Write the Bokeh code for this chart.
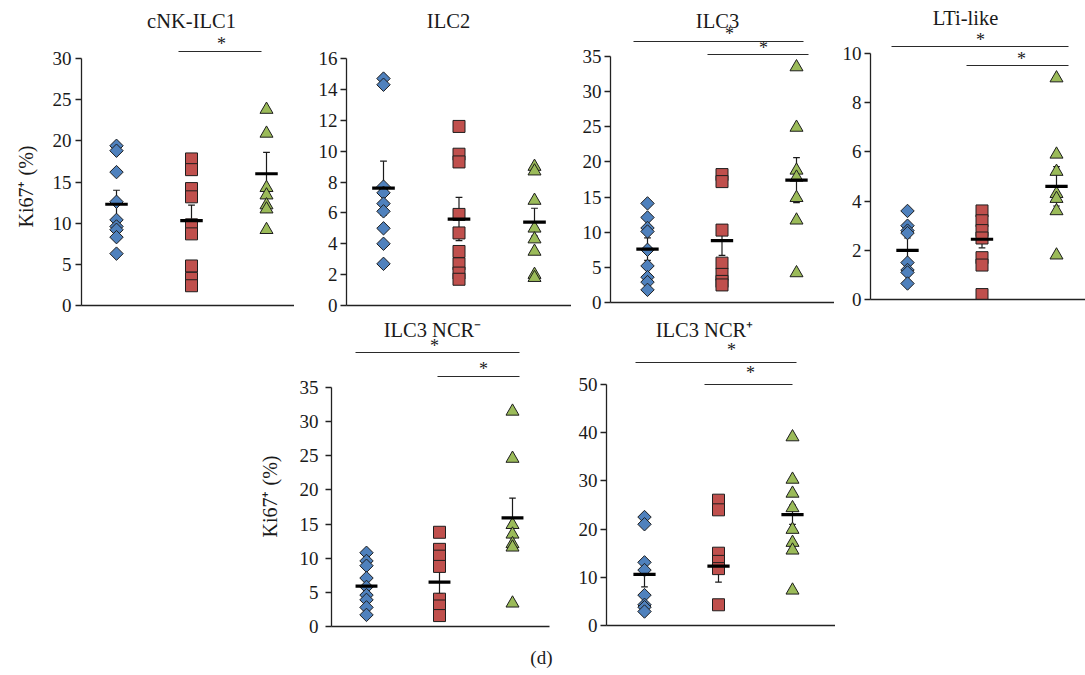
import math
from bokeh.plotting import figure
from bokeh.layouts import row, column, Spacer
from bokeh.models import FixedTicker, Range1d, Title
from bokeh.core.properties import value
from bokeh.embed import file_html
from bokeh.resources import INLINE

# ---------------- data ----------------
titles = ["cNK-ILC1", "ILC2", "ILC3", "LTi-like", "ILC3 NCR\u207b", "ILC3 NCR\u207a"]

cnk_blue = [19.4, 18.8, 16.2, 12.6, 10.4, 9.6, 9.2, 8.3, 6.3]
cnk_red = [17.8, 16.5, 14.2, 13.2, 9.8, 8.7, 4.8, 3.3, 2.4]
cnk_green = [23.8, 20.9, 14.3, 13.4, 12.2, 11.7, 9.2]
cnk_mean = [12.3, 10.3, 16.0]
cnk_sem = [1.7, 1.9, 2.6]

ilc2_blue = [14.7, 14.3, 7.7, 7.3, 6.6, 6.1, 5.0, 4.0, 2.7]
ilc2_red = [11.6, 9.8, 9.3, 5.9, 4.7, 3.5, 2.7, 2.1, 1.7]
ilc2_green = [9.0, 8.7, 6.8, 5.0, 4.3, 3.5, 2.0, 1.8]
ilc2_mean = [7.6, 5.6, 5.4]
ilc2_sem = [1.75, 1.4, 0.9]

ilc3_blue = [14.1, 12.1, 10.6, 10.1, 7.5, 5.2, 3.6, 2.9, 1.8]
ilc3_red = [18.2, 17.2, 10.3, 5.6, 4.0, 3.0, 2.5]
ilc3_green = [33.5, 24.9, 18.8, 17.8, 14.9, 11.7, 4.2]
ilc3_mean = [7.6, 8.8, 17.4]
ilc3_sem = [1.6, 2.1, 3.2]

lti_blue = [3.6, 3.0, 2.8, 2.7, 1.5, 1.2, 1.1, 0.65]
lti_red = [3.6, 3.2, 2.8, 2.5, 1.7, 1.4, 0.2]
lti_green = [9.0, 5.9, 5.2, 4.3, 4.1, 3.6, 1.8]
lti_mean = [2.0, 2.45, 4.6]
lti_sem = [0.5, 0.35, 0.8]

ncrneg_blue = [10.8, 9.6, 8.9, 7.1, 5.8, 4.6, 3.9, 2.8, 1.7]
ncrneg_red = [13.8, 11.3, 10.3, 8.8, 4.0, 3.0, 1.6]
ncrneg_green = [31.5, 24.6, 14.9, 13.5, 12.1, 11.6, 3.4]
ncrneg_mean = [5.9, 6.5, 15.9]
ncrneg_sem = [1.0, 1.7, 2.9]

ncrpos_blue = [22.5, 21.0, 13.1, 11.5, 6.3, 4.3, 3.8, 2.9]
ncrpos_red = [26.0, 24.0, 15.0, 13.3, 11.8, 4.3]
ncrpos_green = [39.1, 30.3, 27.4, 24.4, 19.9, 17.2, 15.6, 7.3]
ncrpos_mean = [10.6, 12.3, 23.0]
ncrpos_sem = [2.6, 3.3, 2.0]

ticks_cnk = [0, 5, 10, 15, 20, 25, 30]
ticks_ilc2 = [0, 2, 4, 6, 8, 10, 12, 14, 16]
ticks_ilc3 = [0, 5, 10, 15, 20, 25, 30, 35]
ticks_lti = [0, 2, 4, 6, 8, 10]
ticks_ncrneg = [0, 5, 10, 15, 20, 25, 30, 35]
ticks_ncrpos = [0, 10, 20, 30, 40, 50]

ylabel = "Ki67\u207a (%)"
panel_tag = "(d)"

# ---------------- styling ----------------
SERIF = "Liberation Serif"
BLUE, RED, GREEN = "#4F81BD", "#C0504D", "#9BBB59"
EDGE = "#1e1e1e"
INK = "#1a1a1a"


def make_panel(title, groups, means, sems, ticks, lay):
    Fl, Fr, c1, unit = lay["Fl"], lay["Fr"], lay["c1"], lay["unit"]
    Fb, Tt, ctop, cbot = lay["Fb"], lay["Tt"], lay["ctop"], lay["cbot"]
    ymax = ticks[-1]

    def X(px):
        return 1 + (px - c1) / unit

    def Y(px):
        return (Fb - px) / (Fb - Tt) * ymax

    p = figure(frame_width=Fr - Fl, frame_height=Fb - ctop,
               min_border_left=lay["bl"], min_border_right=lay.get("br", 0),
               min_border_top=0, min_border_bottom=cbot - Fb,
               x_range=Range1d(X(Fl), X(Fr)), y_range=Range1d(0, Y(ctop)),
               output_backend="svg", toolbar_location=None, tools="")
    p.outline_line_color = None
    p.xgrid.visible = False
    p.ygrid.visible = False
    p.background_fill_color = "white"
    p.border_fill_color = "white"

    # axes
    yax = p.yaxis[0]
    yax.ticker = FixedTicker(ticks=ticks)
    yax.bounds = (0, ymax)
    yax.major_tick_out = 6
    yax.major_tick_in = 0
    yax.minor_tick_line_color = None
    yax.major_label_standoff = lay.get("std", 3)
    yax.major_label_text_font = SERIF
    yax.major_label_text_font_size = "19px"
    yax.major_label_text_color = INK
    yax.axis_line_color = "#222222"
    yax.axis_line_width = 1.3
    yax.major_tick_line_color = "#222222"
    yax.major_tick_line_width = 1.3

    if "ylab" in lay:
        off, std = lay["ylab"]
        p.add_layout(Title(text=ylabel, align="left", offset=off, standoff=std,
                           text_font=SERIF, text_font_size="20px",
                           text_font_style="normal", text_color=INK), "left")

    xax = p.xaxis[0]
    xax.ticker = FixedTicker(ticks=[])
    xax.major_tick_out = 0
    xax.major_tick_in = 0
    xax.minor_tick_line_color = None
    xax.major_label_standoff = 0
    xax.axis_line_color = "#222222"
    xax.axis_line_width = 1.3

    if "tag" in lay:
        off, std = lay["tag"]
        p.add_layout(Title(text=panel_tag, align="right", offset=off, standoff=std,
                           text_font=SERIF, text_font_size="19px",
                           text_font_style="normal", text_color=INK), "below")

    # error bars (mean +/- SEM)
    cats = [1, 2, 3]
    lo = [m - s for m, s in zip(means, sems)]
    hi = [m + s for m, s in zip(means, sems)]
    cw = 0.045
    p.segment(x0=cats, y0=lo, x1=cats, y1=hi, line_color=INK, line_width=1.2)
    p.segment(x0=[c - cw for c in cats], y0=hi, x1=[c + cw for c in cats], y1=hi,
              line_color=INK, line_width=1.2)
    p.segment(x0=[c - cw for c in cats], y0=lo, x1=[c + cw for c in cats], y1=lo,
              line_color=INK, line_width=1.2)

    blue, red, green = groups
    p.scatter(x=[1] * len(blue), y=blue, marker="square", angle=math.pi / 4, size=9.5,
              fill_color=BLUE, line_color=EDGE, line_width=1)
    p.scatter(x=[2] * len(red), y=red, marker="square", size=12,
              fill_color=RED, line_color=EDGE, line_width=1)
    p.scatter(x=[3] * len(green), y=green, marker="triangle", size=13,
              fill_color=GREEN, line_color=EDGE, line_width=1)

    # mean lines
    mw = 0.15
    p.segment(x0=[c - mw for c in cats], y0=means, x1=[c + mw for c in cats], y1=means,
              line_color="black", line_width=3.2)

    # title
    tx, ty = lay["title"]
    p.text(x=[X(tx)], y=[Y(ty)], text=[title], text_font=value(SERIF),
           text_font_size="20.5px", text_align="center", text_baseline="middle",
           text_color=INK)

    # significance bars
    for (x0, x1, yb, sx, sy) in lay.get("bars", []):
        p.segment(x0=[X(x0)], y0=[Y(yb)], x1=[X(x1)], y1=[Y(yb)],
                  line_color="#2a2a2a", line_width=1.1)
        p.text(x=[X(sx)], y=[Y(sy)], text=["*"], text_font=value(SERIF),
               text_font_size="18px", text_align="center", text_baseline="middle",
               text_color=INK)
    return p


TOPB = 317   # bottom of the first row (screen px)
L1 = dict(Fl=77, Fr=290, c1=112, unit=75, Fb=305, Tt=58, ctop=8, cbot=TOPB, bl=77,
          std=4, ylab=(78, 25), title=(187, 20), bars=[(174, 257, 51, 217, 43)])
L2 = dict(Fl=342, Fr=567, c1=379, unit=75.5, Fb=305, Tt=58, ctop=8, cbot=TOPB, bl=52,
          title=(444, 20))
L3 = dict(Fl=606, Fr=830, c1=643, unit=74.5, Fb=302, Tt=56, ctop=8, cbot=TOPB, bl=39,
          title=(713, 20), bars=[(629, 799, 41, 725, 33), (703, 804, 54, 759, 47)])
L4 = dict(Fl=866, Fr=1083, c1=903, unit=74.5, Fb=299, Tt=53, ctop=8, cbot=TOPB, bl=36,
          title=(961, 17), bars=[(887, 1064, 46, 976, 39), (962, 1064, 65, 1017, 58)])
L5 = dict(Fl=329, Fr=547, c1=364, unit=73, Fb=626, Tt=387, ctop=TOPB, cbot=675, bl=89,
          br=23, std=7, ylab=(89, 32), title=(430, 329),
          bars=[(353, 517, 352, 432, 345), (435, 517, 376, 481, 368)], tag=(-3, 36))
L6 = dict(Fl=604, Fr=833, c1=642, unit=74, Fb=625, Tt=384, ctop=TOPB, cbot=675, bl=34,
          title=(702, 329), bars=[(633, 794, 362, 729, 349), (702, 790, 384, 748, 372)])

p1 = make_panel(titles[0], (cnk_blue, cnk_red, cnk_green), cnk_mean, cnk_sem, ticks_cnk, L1)
p2 = make_panel(titles[1], (ilc2_blue, ilc2_red, ilc2_green), ilc2_mean, ilc2_sem, ticks_ilc2, L2)
p3 = make_panel(titles[2], (ilc3_blue, ilc3_red, ilc3_green), ilc3_mean, ilc3_sem, ticks_ilc3, L3)
p4 = make_panel(titles[3], (lti_blue, lti_red, lti_green), lti_mean, lti_sem, ticks_lti, L4)
p5 = make_panel(titles[4], (ncrneg_blue, ncrneg_red, ncrneg_green), ncrneg_mean, ncrneg_sem,
                ticks_ncrneg, L5)
p6 = make_panel(titles[5], (ncrpos_blue, ncrpos_red, ncrpos_green), ncrpos_mean, ncrpos_sem,
                ticks_ncrpos, L6)

top = row(p1, p2, p3, p4, spacing=0)
bottom = row(Spacer(width=240, height=675 - TOPB), p5, p6, spacing=0)
layout = column(Spacer(width=1083, height=8), top, bottom, spacing=0)

open("out.html", "w").write(file_html(layout, INLINE))
